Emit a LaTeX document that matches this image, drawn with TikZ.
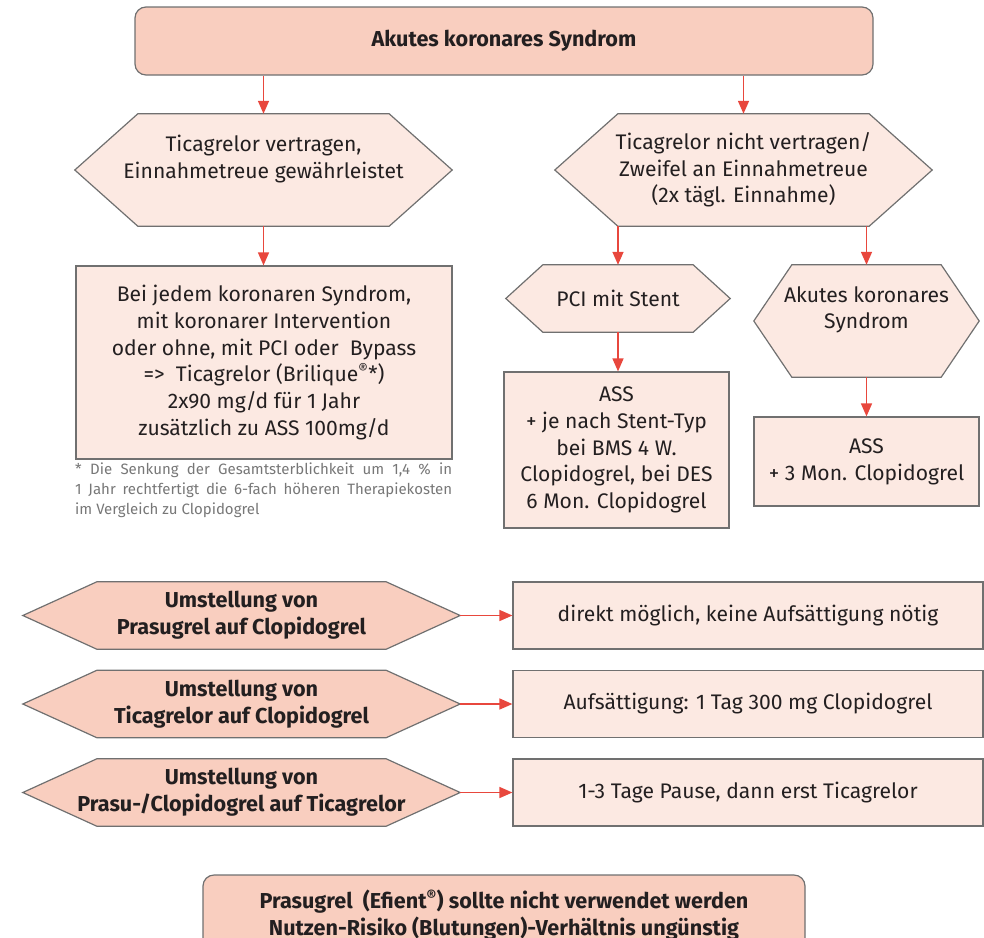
\documentclass[tikz,border=0pt]{standalone}
\usepackage{fontspec}
\setmainfont{Fira Sans}
\usetikzlibrary{arrows.meta,backgrounds}

\definecolor{salmon}{HTML}{F9CEBF}
\definecolor{blush}{HTML}{FCE9E2}
\definecolor{framegray}{HTML}{707070}
\definecolor{arrowred}{HTML}{E8473D}
\definecolor{ink}{HTML}{231F20}
\definecolor{notegray}{HTML}{777777}

\def\bodyfont{\fontsize{21.1}{26.7}\selectfont}
\def\headfont{\fontsize{21.6}{26.7}\selectfont\bfseries}

\tikzset{
	hexa/.style={inner sep=0pt, align=center, font=\bodyfont},
	plainbox/.style={draw=framegray, fill=blush, line width=1.2pt, inner sep=0pt, align=center, font=\bodyfont},
	roundbox/.style={plainbox, fill=salmon, rounded corners=11pt, font=\headfont},
	flow/.style={draw=arrowred, line width=1.5pt, -{Triangle[width=11pt,length=13pt]}}
}

\begin{document}
\begin{tikzpicture}[x=1pt,y=-1pt,text=ink]
		\useasboundingbox (0,0) rectangle (984,937);
		\clip (0,0) rectangle (984,937);

		\node[roundbox, minimum width=738, minimum height=68] (acs) at (504,41) {Akutes koronares Syndrom};

		\node[hexa, minimum width=377, minimum height=112] (tolerated) 		at (263.5,170) {Ticagrelor vertragen,\\Einnahmetreue gewährleistet\\\mbox{}};
		\node[hexa, minimum width=377, minimum height=112] (not tolerated) 	at (743.5,170) {Ticagrelor nicht vertragen/\\Zweifel an Einnahmetreue\\(2x tägl. Einnahme)};

		\node[plainbox, minimum width=376, minimum height=193] (ticagrelor) at (264,362.5)
			{Bei jedem koronaren Syndrom,\\ mit koronarer Intervention\\oder ohne, mit PCI oder\ \ Bypass\\=>\ \ Ticagrelor (Brilique\textsuperscript{\textregistered}*)\\2x90 mg/d für 1 Jahr\\zusätzlich zu ASS 100mg/d};
		\node[anchor=north west, inner sep=0pt, text width=377, align=justify, text=notegray, font=\fontsize{15}{20}\selectfont] (footnote) at (75,463)
			{\hyphenpenalty=10000 * Die Senkung der Gesamtsterblichkeit um 1,4 \% in\linebreak 1 Jahr rechtfertigt die 6-fach höheren Therapiekosten\linebreak im Vergleich zu Clopidogrel};

		\node[hexa, minimum width=224, minimum height=67] (pci) 		at (618,298.5) {PCI mit Stent};
		\node[hexa, minimum width=225, minimum height=112] (acs only) 	at (866.5,321) {Akutes koronares\\Syndrom\\\mbox{}};
		\node[plainbox, minimum width=225, minimum height=156] (stent) 	at (616.5,450) {ASS\\+ je nach Stent-Typ\\bei BMS 4 W.\\Clopidogrel, bei DES\\6 Mon. Clopidogrel};
		\node[plainbox, minimum width=225, minimum height=89] (clopidogrel) at (866.5,461.5) {ASS\\+ 3 Mon. Clopidogrel};

		\draw[flow] (acs.south -| tolerated.north) -- (tolerated.north);
		\draw[flow] (acs.south -| not tolerated.north) -- (not tolerated.north);
		\draw[flow] (tolerated.south) -- (tolerated.south |- ticagrelor.north);
		\draw[flow] (not tolerated.south -| pci.north) -- (pci.north);
		\draw[flow] (not tolerated.south -| acs only.north) -- (acs only.north);
		\draw[flow] (pci.south) -- (pci.south |- stent.north);
		\draw[flow] (acs only.south) -- (acs only.south |- clopidogrel.north);

		\foreach \i/\y/\from/\result in {
				1/615.5/{Prasugrel auf Clopidogrel}/{direkt möglich, keine Aufsättigung nötig},
				2/704/{Ticagrelor auf Clopidogrel}/{Aufsättigung: 1 Tag 300 mg Clopidogrel},
				3/792.5/{Prasu-/Clopidogrel auf Ticagrelor}/{1-3 Tage Pause, dann erst Ticagrelor}}
		{
				\node[hexa, font=\headfont, minimum width=437, minimum height=67] (switch_\i) at (241.5,\y) {Umstellung von\\\from};
				\node[plainbox, minimum width=470, minimum height=67] (advice_\i) at (748,\y) {\result};
				\draw[flow] (switch_\i) -- (advice_\i);
		}

		\node[roundbox, minimum width=602, minimum height=80] (prasugrel) at (504,915)
			{Prasugrel\ \ (Efient\textsuperscript{\textregistered}) sollte nicht verwendet werden\\Nutzen-Risiko (Blutungen)-Verhältnis ungünstig};

		\begin{scope}[on background layer]
				\foreach \n/\d/\c in {tolerated/63/blush, not tolerated/63/blush, pci/37/blush, acs only/38/blush, switch_1/74/salmon, switch_2/74/salmon, switch_3/74/salmon}
						\filldraw[draw=framegray, fill=\c, line width=1.2pt] (\n.west) -- ([xshift=\d]\n.north west) -- ([xshift=-\d]\n.north east) -- (\n.east) -- ([xshift=-\d]\n.south east) -- ([xshift=\d]\n.south west) -- cycle;
		\end{scope}
\end{tikzpicture}
\end{document}
